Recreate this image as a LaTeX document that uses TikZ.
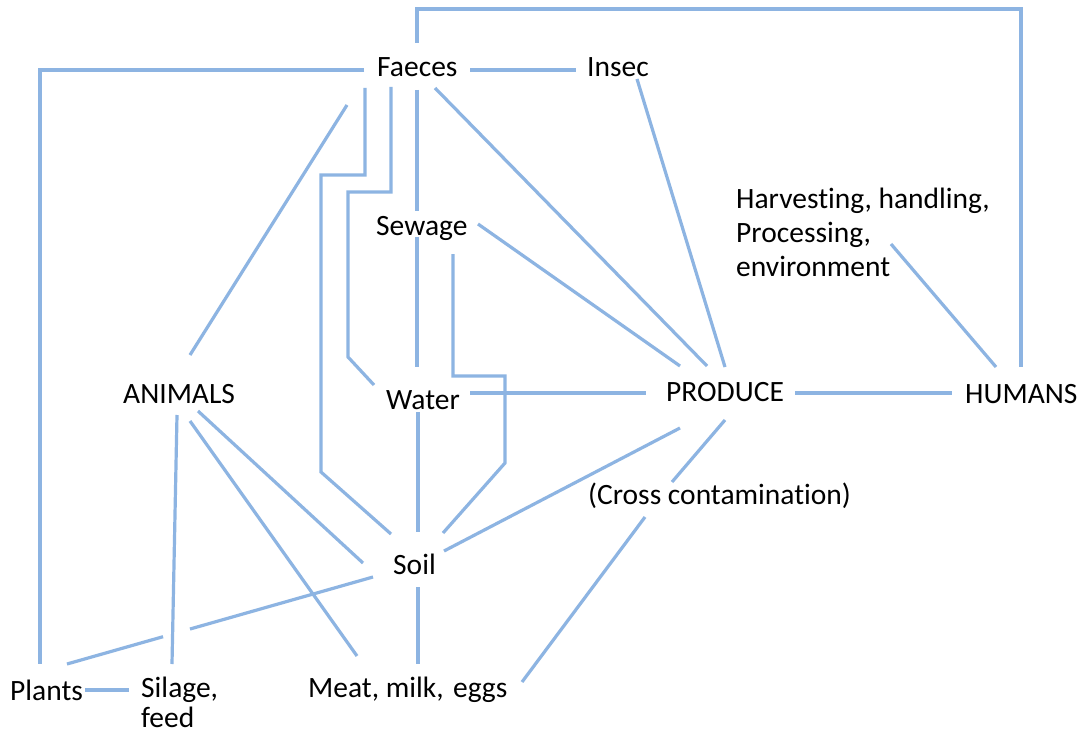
\documentclass[tikz,border=0pt]{standalone}
\usepackage{fontspec}
\setmainfont{Carlito}[Ligatures={NoCommon}]
\usetikzlibrary{calc}
\definecolor{linkblue}{RGB}{141,180,226}
\begin{document}
\begin{tikzpicture}[x=1pt,y=-1pt,
  link/.style={draw=linkblue,line width=3.2pt},
  lbl/.style={anchor=base west,inner sep=0pt,align=left,font=\fontsize{29.5}{34}\selectfont}]
\useasboundingbox[fill=white] (0,0) rectangle (1078,733);
% text nodes (multi-line nodes are placed by their last baseline)
\node[lbl] (faeces) at (377,77) {Faeces};
\node[lbl] (insec) at (587,77) {Insec};
\node[lbl] (sewage) at (376,235) {Sewage};
\node[lbl] (harv) at (736,276) {Harvesting, handling,\\Processing,\\environment};
\node[lbl] (animals) at (123,403) {ANIMALS};
\node[lbl] (water) at (386,409) {Water};
\node[lbl] (produce) at (666,401) {PRODUCE};
\node[lbl] (humans) at (965,403) {HUMANS};
\node[lbl] (cross) at (588,504) {(Cross contamination)};
\node[lbl] (soil) at (393,574) {Soil};
\node[lbl] (plants) at (10,700) {Plants};
\node[lbl,font=\fontsize{29.5}{30}\selectfont] (silage) at (141,727) {Silage,\\feed};
\node[lbl] (meat) at (308,697) {Meat, milk,\ \hspace{-4pt}\ eggs};
% connector end points
\coordinate (fcTop) at (417,43);
\coordinate (huTop) at (1021,367);
\coordinate (fcL) at (364,70);
\coordinate (plTop) at (40,664);
\coordinate (fcR) at (470,70);
\coordinate (inL) at (576,70);
\coordinate (inB) at (637,79);
\coordinate (prI) at (725,367);
\coordinate (fcP) at (435,88);
\coordinate (prF) at (707,366);
\coordinate (fcSw) at (417,90);
\coordinate (swT) at (417,211);
\coordinate (fcA) at (347,105);
\coordinate (anT) at (190,355);
\coordinate (fcS) at (365,88);
\coordinate (soA) at (391,534);
\coordinate (fcW) at (391,87);
\coordinate (waL) at (374,385);
\coordinate (swW) at (417,237);
\coordinate (waT) at (417,367);
\coordinate (swS) at (453,254);
\coordinate (soS) at (443,533);
\coordinate (swP) at (478,224);
\coordinate (prS) at (680,366);
\coordinate (waR) at (470,393);
\coordinate (prL) at (646,393);
\coordinate (waB) at (418,412);
\coordinate (soT) at (418,532);
\coordinate (prR) at (795,393);
\coordinate (huL) at (952,393);
\coordinate (hvB) at (891,244);
\coordinate (huH) at (996,367);
\coordinate (prB) at (680,428);
\coordinate (soR) at (444,551);
\coordinate (prC) at (725,420);
\coordinate (crT) at (672,482);
\coordinate (crB) at (645,517);
\coordinate (meR) at (522,682);
\coordinate (anSi) at (177,415);
\coordinate (siT) at (172,664);
\coordinate (anM) at (190,421);
\coordinate (meL) at (357,656);
\coordinate (anS) at (198,411);
\coordinate (soL) at (363,563);
\coordinate (soP) at (373,577);
\coordinate (plR) at (67,664);
\coordinate (soB) at (418,587);
\coordinate (meT) at (418,664);
\coordinate (plE) at (85,690);
\coordinate (siL) at (129,690);
% connectors
\draw[link] (fcTop) -- ++(0,-34) -| (huTop);
\draw[link] (fcL) -| (plTop);
\draw[link] (fcR) -- (inL);
\draw[link] (inB) -- (prI);
\draw[link] (fcP) -- (prF);
\draw[link] (fcSw) -- (swT);
\draw[link] (fcA) -- (anT);
\draw[link] (fcS) -- ++(0,87) -- ++(-44,0) -- ++(0,297) -- (soA);
\draw[link] (fcW) -- ++(0,105) -- ++(-43,0) -- ++(0,165) -- (waL);
\draw[link] (swW) -- (waT);
\draw[link] (swS) -- ++(0,122) -- ++(52,0) -- ++(0,87) -- (soS);
\draw[link] (swP) -- (prS);
\draw[link] (waR) -- (prL);
\draw[link] (waB) -- (soT);
\draw[link] (prR) -- (huL);
\draw[link] (hvB) -- (huH);
\draw[link] (prB) -- (soR);
\draw[link] (prC) -- (crT);
\draw[link] (crB) -- (meR);
\draw[link] (anSi) -- (siT);
\draw[link] (anM) -- (meL);
\draw[link] (anS) -- (soL);
\draw[link] (soP) -- ($(soP)!0.598!(plR)$);
\draw[link] ($(soP)!0.686!(plR)$) -- (plR);
\draw[link] (soB) -- (meT);
\draw[link] (plE) -- (siL);
\end{tikzpicture}
\end{document}
